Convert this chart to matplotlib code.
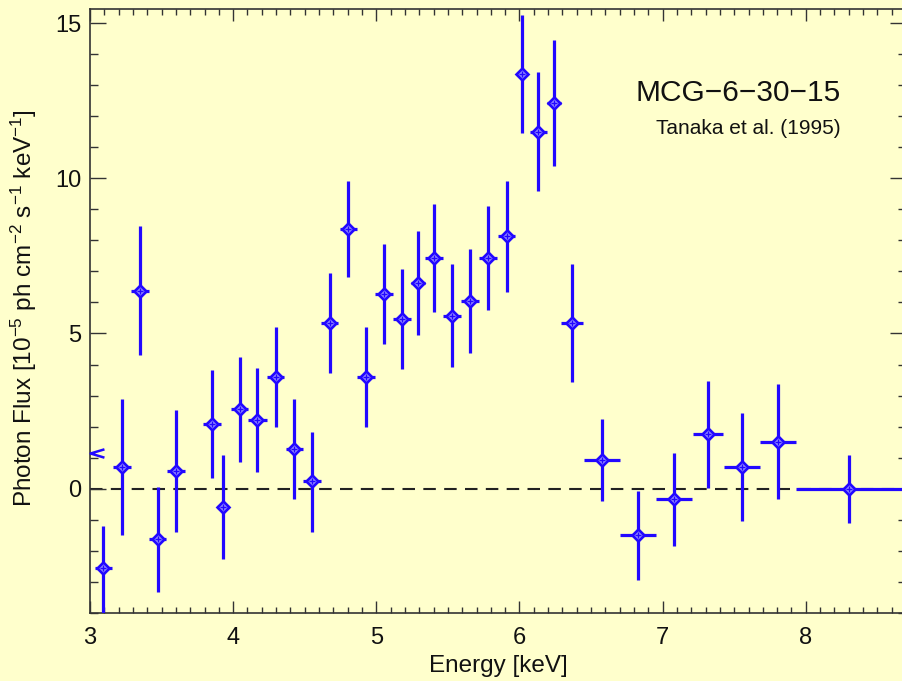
import numpy as np
import matplotlib
matplotlib.use("Agg")
import matplotlib.pyplot as plt
from matplotlib.ticker import MultipleLocator

# ---------- DATA ----------
energy = [3.093, 3.221, 3.349, 3.472, 3.600, 3.853, 3.930, 4.047, 4.170, 4.298,
          4.426, 4.551, 4.675, 4.803, 4.931, 5.057, 5.182, 5.291, 5.405, 5.531,
          5.657, 5.782, 5.910, 6.020, 6.131, 6.240, 6.368, 6.575, 6.826, 7.082,
          7.317, 7.552, 7.808, 8.299]
energy_halfwidth = [0.058, 0.063, 0.063, 0.058, 0.062, 0.064, 0.040, 0.060, 0.063, 0.060,
                    0.060, 0.062, 0.060, 0.060, 0.063, 0.063, 0.062, 0.050, 0.063, 0.062,
                    0.063, 0.063, 0.062, 0.040, 0.060, 0.049, 0.078, 0.126, 0.126, 0.126,
                    0.108, 0.126, 0.126, 0.370]
flux = [-2.57, 0.71, 6.38, -1.63, 0.57, 2.09, -0.58, 2.56, 2.21, 3.61,
        1.28, 0.23, 5.35, 8.37, 3.61, 6.27, 5.47, 6.62, 7.44, 5.58,
        6.05, 7.44, 8.14, 13.36, 11.50, 12.44, 5.35, 0.92, -1.51, -0.34,
        1.75, 0.69, 1.50, -0.01]
flux_lo = [-4.30, -1.51, 4.31, -3.32, -1.41, 0.35, -2.27, 0.87, 0.53, 1.98,
           -0.34, -1.39, 3.74, 6.81, 2.00, 4.66, 3.85, 4.95, 5.70, 3.91,
           4.36, 5.76, 6.34, 11.45, 9.59, 10.41, 3.44, -0.40, -2.96, -1.85,
           0.01, -1.05, -0.34, -1.12]
flux_hi = [-1.22, 2.88, 8.48, 0.05, 2.54, 3.83, 1.09, 4.23, 3.88, 5.22,
           2.89, 1.84, 6.96, 9.93, 5.22, 7.89, 7.07, 8.30, 9.18, 7.25,
           7.72, 9.12, 9.93, 15.28, 13.43, 14.47, 7.24, 2.25, -0.07, 1.16,
           3.47, 2.43, 3.36, 1.09]

# off-scale point drawn as a small chevron at the left edge
offscale_x = [3.048]
offscale_y = [1.16]

BLUE = "#2208ff"
BG = "#ffffcc"
INK = "#111111"

plt.rcParams["font.family"] = ["Liberation Sans", "DejaVu Sans"]
plt.rcParams["mathtext.fontset"] = "custom"
plt.rcParams["mathtext.rm"] = "Liberation Sans"
plt.rcParams["mathtext.it"] = "Liberation Sans:italic"
plt.rcParams["mathtext.bf"] = "Liberation Sans:bold"


def main():
    fig = plt.figure(figsize=(9.02, 6.81), dpi=100, facecolor=BG)
    ax = fig.add_axes([90 / 902, 68.3 / 681, 816 / 902, 603.7 / 681])
    ax.set_facecolor(BG)

    e = np.array(energy)
    f = np.array(flux)
    yerr = [f - np.array(flux_lo), np.array(flux_hi) - f]

    ax.axhline(0, color="#222222", lw=1.5, ls=(0, (6, 4)), zorder=1)

    ax.errorbar(e, f, xerr=energy_halfwidth, yerr=yerr, fmt="none",
                ecolor=BLUE, elinewidth=2.3, capsize=0, zorder=3)
    ax.plot(e, f, "D", ms=6.5, mfc="#9a90ff", mec=BLUE, mew=1.9, ls="none", zorder=4)
    ax.plot(e, f, "+", ms=5, mec=BLUE, mew=1.0, ls="none", zorder=5)

    chevron = [(1, 0.6), (-1, 0), (1, -0.6)]
    ax.plot(offscale_x, offscale_y, marker=chevron, ms=10, mfc="none",
            mec=BLUE, mew=1.8, ls="none", clip_on=False, zorder=4)

    ax.set_xlim(3, 8.7)
    ax.set_ylim(-4.0, 15.46)

    ax.xaxis.set_major_locator(MultipleLocator(1))
    ax.xaxis.set_minor_locator(MultipleLocator(0.1))
    ax.yaxis.set_major_locator(MultipleLocator(5))
    ax.yaxis.set_minor_locator(MultipleLocator(1))

    ax.tick_params(which="both", direction="in", top=True, right=True,
                   colors="#333333", labelcolor=INK, labelsize=17, width=1.0)
    ax.tick_params(axis="x", which="major", length=8.6, pad=10)
    ax.tick_params(axis="x", which="minor", length=4.3)
    ax.tick_params(axis="y", which="major", length=11.5, pad=6)
    ax.tick_params(axis="y", which="minor", length=5.8)

    for sp in ax.spines.values():
        sp.set_color("#333333")
        sp.set_linewidth(1.2)

    fig.text(498 / 902, 1 - 666 / 681, "Energy [keV]", ha="center", va="center",
             fontsize=17.5, color=INK)
    fig.text(24 / 902, 1 - 308 / 681,
             r"Photon Flux [10$^{-5}$ ph cm$^{-2}$ s$^{-1}$ keV$^{-1}$]",
             rotation=90, ha="center", va="center", fontsize=17.5, color=INK)

    fig.text(841 / 902, 1 - 93 / 681, "MCG\u22126\u221230\u221215", ha="right",
             va="center", fontsize=21.5, color=INK)
    fig.text(841 / 902, 1 - 129 / 681, "Tanaka et al. (1995)", ha="right",
             va="center", fontsize=15, color=INK)

    fig.savefig("out.png", dpi=100, facecolor=BG)
    print("Saved: out.png")


if __name__ == "__main__":
    main()
